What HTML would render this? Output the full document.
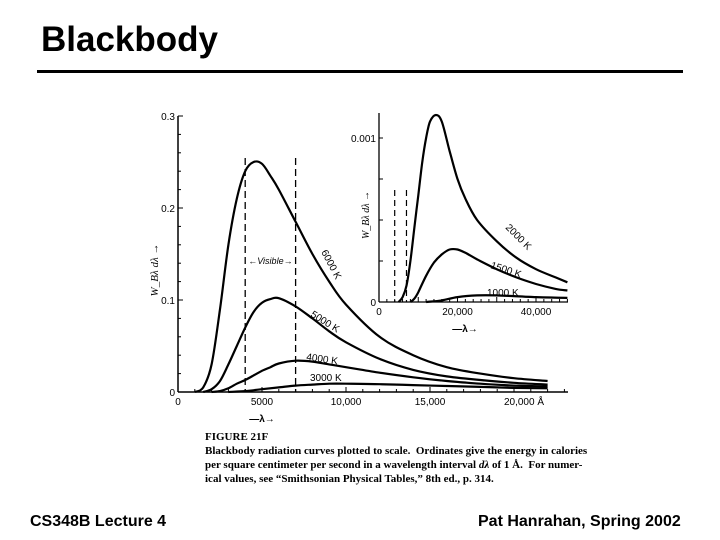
<!DOCTYPE html>
<html><head><meta charset="utf-8"><style>
body{margin:0;background:#fff;}
#wrap{position:relative;width:720px;height:540px;overflow:hidden;background:#fff;font-family:"Liberation Sans",sans-serif;}
.t{position:absolute;white-space:nowrap;}
</style></head><body>
<div id="wrap">
<div class="t" style="left:41px;top:20px;font-size:35px;font-weight:bold;">Blackbody</div>
<div style="position:absolute;left:37px;top:70px;width:646px;height:3px;background:#000;"></div>
<svg id="chart" width="720" height="540" style="position:absolute;left:0;top:0;"></svg>
<div class="t" style="left:205px;top:430px;font-family:'Liberation Serif',serif;font-size:11px;font-weight:bold;line-height:14px;">FIGURE 21F<br>Blackbody radiation curves plotted to scale.&nbsp; Ordinates give the energy in calories<br>per square centimeter per second in a wavelength interval <i>dλ</i> of 1 Å.&nbsp; For numer-<br>ical values, see “Smithsonian Physical Tables,” 8th ed., p. 314.</div>
<div class="t" style="left:30px;top:513px;font-size:16px;font-weight:bold;">CS348B Lecture 4</div>
<div class="t" style="left:478px;top:513px;font-size:16px;font-weight:bold;">Pat Hanrahan, Spring 2002</div>
</div>
<script>
// main chart data (wavelength in Å, energy)
const mainLambda6000 = [1000,1500,2000,2500,3000,3500,4000,4500,5000,5500,6000,7000,8000,9000,10000,12000,14000,16000,18000,20000,22000];
const mainT6000 = [0,0.005,0.03,0.09,0.16,0.21,0.24,0.25,0.248,0.235,0.22,0.185,0.15,0.12,0.095,0.06,0.04,0.027,0.02,0.015,0.012];
const mainLambda5000 = [1500,2000,2500,3000,3500,4000,4500,5000,5500,6000,7000,8000,9000,10000,12000,14000,16000,18000,20000,22000];
const mainT5000 = [0,0.003,0.012,0.03,0.05,0.07,0.087,0.097,0.101,0.102,0.093,0.08,0.066,0.054,0.036,0.024,0.017,0.013,0.01,0.008];
const mainLambda4000 = [2000,2500,3000,3500,4000,4500,5000,5500,6000,7000,8000,9000,10000,12000,14000,16000,18000,20000,22000];
const mainT4000 = [0,0.001,0.004,0.009,0.013,0.018,0.023,0.027,0.031,0.034,0.033,0.03,0.027,0.021,0.016,0.012,0.009,0.007,0.006];
const mainLambda3000 = [3000,4000,5000,6000,7000,8000,9000,10000,12000,14000,16000,18000,20000,22000];
const mainT3000 = [0,0.001,0.003,0.005,0.007,0.008,0.009,0.009,0.0085,0.0075,0.0065,0.0055,0.0045,0.004];
const mainXTicks = [0,5000,10000,15000,20000];
const mainXTickLabels = ["0","5000","10,000","15,000","20,000 Å"];
const mainYTicks = [0,0.1,0.2,0.3];
const mainYTickLabels = ["0","0.1","0.2","0.3"];
const visibleBand = [4000,7000];
// inset data
const insetLambda2000 = [5000,6000,7000,8000,9000,10000,11000,12000,13000,14500,16000,18000,20000,22000,25000,30000,35000,40000,45000,48000];
const insetT2000 = [0,0.00003,0.0001,0.00025,0.00045,0.00065,0.00085,0.001,0.0011,0.00114,0.0011,0.00092,0.00075,0.00063,0.0005,0.00037,0.00027,0.0002,0.00015,0.00012];
const insetLambda1500 = [8000,9000,10000,12000,14000,16000,18000,20000,22000,25000,30000,35000,40000,45000,48000];
const insetT1500 = [0,0.00002,0.00006,0.00016,0.00024,0.00029,0.00032,0.00032,0.0003,0.00026,0.0002,0.00015,0.00011,0.00008,0.00007];
const insetLambda1000 = [12000,16000,20000,25000,30000,40000,48000];
const insetT1000 = [0,0.00001,0.00003,0.00004,0.00004,0.00003,0.000025];
const insetXTicks = [0,20000,40000];
const insetXTickLabels = ["0","20,000","40,000"];
const insetYTicks = [0,0.001];
const insetYTickLabels = ["0","0.001"];

const NS="http://www.w3.org/2000/svg";
const svg=document.getElementById('chart');
function mk(tag,attrs,parent){const e=document.createElementNS(NS,tag);for(const k in attrs)e.setAttribute(k,attrs[k]);(parent||svg).appendChild(e);return e;}
// axis functions
const mx=v=>178+v*(84/5000);
const my=v=>392-v*920;
const ix=v=>379+v*(78.5/20000);
const iy=v=>302-v*164000;
function pathFrom(xs,ys,fx,fy){
  const p=xs.map((x,i)=>[fx(x),fy(ys[i])]);
  let d='M'+p[0][0].toFixed(1)+','+p[0][1].toFixed(1);
  for(let i=0;i<p.length-1;i++){
    const p0=p[i-1]||p[i],p1=p[i],p2=p[i+1],p3=p[i+2]||p2;
    const c1x=p1[0]+(p2[0]-p0[0])/6,c1y=p1[1]+(p2[1]-p0[1])/6;
    const c2x=p2[0]-(p3[0]-p1[0])/6,c2y=p2[1]-(p3[1]-p1[1])/6;
    d+=` C${c1x.toFixed(1)},${c1y.toFixed(1)} ${c2x.toFixed(1)},${c2y.toFixed(1)} ${p2[0].toFixed(1)},${p2[1].toFixed(1)}`;
  }
  return d;
}
const fontS='font-family:"Liberation Sans",sans-serif;font-size:10px;';
// main axes
let e;
e=mk('line',{x1:mx(0),y1:my(0),x2:568,y2:my(0),stroke:'#000','stroke-width':1.5});


e=mk('line',{x1:mx(0),y1:my(0),x2:mx(0),y2:my(0.3),stroke:'#000','stroke-width':1.5});


for(let v=0;v<=23000;v+=1000){mk('line',{x1:mx(v),y1:my(0),x2:mx(v),y2:my(0)-(v%5000===0?5:3),stroke:'#000','stroke-width':1});}
for(let k=0;k<=15;k++){const v=k*0.02;mk('line',{x1:mx(0),y1:my(v),x2:mx(0)+(k%5===0?5:3),y2:my(v),stroke:'#000','stroke-width':1});}
mainXTicks.forEach((v,i)=>{e=mk('text',{x:mx(v)+(i===4?10:0),y:my(0)+13,'text-anchor':'middle',style:fontS});e.textContent=mainXTickLabels[i];

});
mainYTicks.forEach((v,i)=>{e=mk('text',{x:mx(0)-3,y:my(v)+4,'text-anchor':'end',style:fontS});e.textContent=mainYTickLabels[i];

});
e=mk('text',{x:262,y:422,'text-anchor':'middle',style:fontS+'font-weight:bold;'});e.textContent='—λ→';


e=mk('text',{x:0,y:0,'text-anchor':'middle',transform:'translate(158,270) rotate(-90)',style:'font-family:"Liberation Serif",serif;font-size:11px;font-style:italic;'});e.textContent='W_Bλ dλ →';


visibleBand.forEach(v=>{e=mk('line',{x1:mx(v),y1:158,x2:mx(v),y2:my(0),stroke:'#000','stroke-width':1.3,'stroke-dasharray':'7,4'});

});
e=mk('text',{x:(mx(visibleBand[0])+mx(visibleBand[1]))/2,y:264,'text-anchor':'middle',style:'font-family:"Liberation Sans",sans-serif;font-size:9px;font-style:italic;'});e.textContent='←Visible→';


[[mainLambda6000,mainT6000,'curve-6000k'],[mainLambda5000,mainT5000,'curve-5000k'],[mainLambda4000,mainT4000,'curve-4000k'],[mainLambda3000,mainT3000,'curve-3000k']].forEach(s=>{
  e=mk('path',{d:pathFrom(s[0],s[1],mx,my),fill:'none',stroke:'#000','stroke-width':2.2});
  
  
});
const lblS='font-family:"Liberation Sans",sans-serif;font-size:10px;';
[['6000 K',321,252,62],['5000 K',310,316,32],['4000 K',306,360,8],['3000 K',310,381,0]].forEach(l=>{
  e=mk('text',{x:0,y:0,transform:`translate(${l[1]},${l[2]}) rotate(${l[3]})`,style:lblS});e.textContent=l[0];
  
  
});
// inset
e=mk('line',{x1:ix(0),y1:iy(0),x2:568,y2:iy(0),stroke:'#000','stroke-width':1.3});


e=mk('line',{x1:ix(0),y1:iy(0),x2:ix(0),y2:113,stroke:'#000','stroke-width':1.3});


for(let v=0;v<=48000;v+=2000){mk('line',{x1:ix(v),y1:iy(0),x2:ix(v),y2:iy(0)-(v%10000===0?5:3),stroke:'#000','stroke-width':1});}
for(let k=0;k<=4;k++){const v=k*0.00025;mk('line',{x1:ix(0),y1:iy(v),x2:ix(0)+4,y2:iy(v),stroke:'#000','stroke-width':1});}
insetXTicks.forEach((v,i)=>{e=mk('text',{x:ix(v),y:iy(0)+13,'text-anchor':'middle',style:fontS});e.textContent=insetXTickLabels[i];

});
insetYTicks.forEach((v,i)=>{e=mk('text',{x:ix(0)-3,y:iy(v)+4,'text-anchor':'end',style:fontS});e.textContent=insetYTickLabels[i];

});
e=mk('text',{x:465,y:332,'text-anchor':'middle',style:fontS+'font-weight:bold;'});e.textContent='—λ→';


e=mk('text',{x:0,y:0,'text-anchor':'middle',transform:'translate(369,215) rotate(-90)',style:'font-family:"Liberation Serif",serif;font-size:10px;font-style:italic;'});e.textContent='W_Bλ dλ →';


visibleBand.forEach(v=>{e=mk('line',{x1:ix(v),y1:190,x2:ix(v),y2:iy(0),stroke:'#000','stroke-width':1.2,'stroke-dasharray':'6,4'});

});
[[insetLambda2000,insetT2000,'curve-2000k'],[insetLambda1500,insetT1500,'curve-1500k'],[insetLambda1000,insetT1000,'curve-1000k']].forEach(s=>{
  e=mk('path',{d:pathFrom(s[0],s[1],ix,iy),fill:'none',stroke:'#000','stroke-width':2.2});
  
  
});
[['2000 K',505,228,45],['1500 K',490,268,18],['1000 K',487,296,0]].forEach(l=>{
  e=mk('text',{x:0,y:0,transform:`translate(${l[1]},${l[2]}) rotate(${l[3]})`,style:lblS});e.textContent=l[0];
  
  
});
</script>
</body></html>
